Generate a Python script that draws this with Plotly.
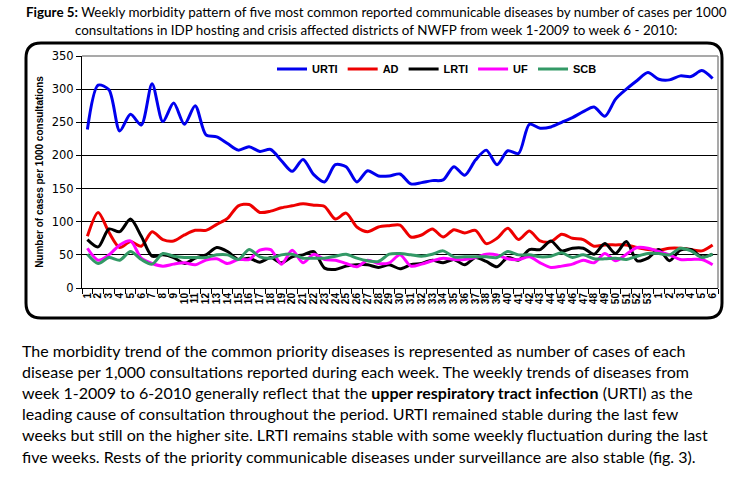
import plotly.graph_objects as go

# week labels: 1-53 of 2009 then 1-6 of 2010
week_labels = [str(w) for w in range(1, 54)] + [str(w) for w in range(1, 7)]

urti = [239, 306, 299, 237, 262, 246, 308, 251, 279, 247,
        275, 231, 228, 218, 208, 213, 206, 209, 192, 176,
        194, 171, 160, 186, 183, 160, 177, 169, 169, 172,
        157, 159, 162, 163, 183, 170, 193, 208, 186, 207,
        203, 247, 241, 243, 250, 257, 266, 273, 259, 285,
        300, 313, 325, 315, 314, 320, 319, 328, 316]
ad = [78, 114, 84, 61, 70, 63, 85, 73, 71, 80,
      87, 87, 96, 105, 124, 126, 114, 116, 121, 124,
      127, 125, 123, 104, 113, 92, 85, 92, 94, 95,
      77, 80, 89, 77, 88, 83, 87, 67, 75, 90,
      73, 86, 71, 70, 81, 75, 73, 63, 65, 65,
      65, 61, 58, 57, 60, 60, 58, 56, 65]
lrti = [73, 62, 89, 85, 104, 78, 48, 50, 46, 37,
        45, 50, 61, 55, 43, 45, 39, 46, 38, 47,
        50, 55, 30, 28, 33, 35, 35, 31, 35, 29,
        35, 37, 42, 38, 43, 35, 46, 40, 32, 46,
        42, 58, 58, 71, 56, 60, 60, 51, 67, 52,
        70, 41, 45, 58, 41, 57, 58, 47, 51]
uf = [60, 42, 50, 65, 71, 45, 37, 33, 36, 38,
      35, 42, 44, 37, 43, 43, 57, 58, 36, 57,
      38, 51, 43, 42, 37, 32, 42, 37, 38, 50,
      33, 36, 41, 45, 43, 43, 46, 51, 50, 44,
      43, 47, 38, 31, 33, 36, 42, 38, 52, 41,
      51, 61, 60, 55, 50, 43, 43, 43, 35]
scb = [51, 37, 46, 42, 55, 43, 36, 52, 48, 46,
       46, 46, 50, 50, 43, 58, 47, 45, 50, 51,
       45, 45, 45, 48, 51, 45, 41, 40, 51, 52,
       50, 48, 51, 56, 47, 47, 47, 47, 46, 55,
       50, 50, 47, 48, 53, 46, 50, 44, 44, 45,
       43, 48, 52, 52, 50, 60, 56, 46, 51]

series = [("URTI", urti, "#0000EE"), ("AD", ad, "#EE0000"), ("LRTI", lrti, "#000000"),
          ("UF", uf, "#FF00FF"), ("SCB", scb, "#339966")]

title_lines = [
    "<b>Figure 5:</b> Weekly morbidity pattern of five most common reported communicable diseases by number of cases per 1000",
    "consultations in IDP hosting and crisis affected districts of NWFP from week 1-2009 to week 6 - 2010:",
]
para_lines = [
    "The morbidity trend of the common priority diseases is represented as number of cases of each",
    "disease per 1,000 consultations reported during each week. The weekly trends of diseases from",
    "week 1-2009 to 6-2010 generally reflect that the <b>upper respiratory tract infection</b> (URTI) as the",
    "leading cause of consultation throughout the period. URTI remained stable during the last few",
    "weeks but still on the higher site. LRTI remains stable with some weekly fluctuation during the last",
    "five weeks. Rests of the priority communicable diseases under surveillance are also stable (fig. 3).",
]

W, H = 752, 483
L, R, T, B = 82, 34, 56, 195
pw, ph = W - L - R, H - T - B


def px_x(x):
    return (x - L) / pw


def px_y(y):
    return (H - B - y) / ph


x = list(range(len(week_labels)))

fig = go.Figure()
for name, vals, col in series:
    fig.add_trace(go.Scatter(x=x, y=vals, name=name, mode="lines",
                             line=dict(color=col, width=3, shape="spline", smoothing=0.8)))

# rounded frame round the chart
x0, x1, yt, yb = px_x(26), px_x(722), px_y(43), px_y(318)
rx, ry = 15 / pw, 15 / ph
path = (f"M {x0+rx},{yt} L {x1-rx},{yt} Q {x1},{yt} {x1},{yt-ry} "
        f"L {x1},{yb+ry} Q {x1},{yb} {x1-rx},{yb} L {x0+rx},{yb} "
        f"Q {x0},{yb} {x0},{yb+ry} L {x0},{yt-ry} Q {x0},{yt} {x0+rx},{yt} Z")
fig.add_shape(type="path", path=path, xref="paper", yref="paper",
              line=dict(color="black", width=3))
# grey plot-area border, top and right
fig.add_shape(type="line", xref="paper", yref="paper", x0=0, x1=1, y0=1, y1=1,
              line=dict(color="#8c8c8c", width=1.5), layer="above")
fig.add_shape(type="line", xref="paper", yref="paper", x0=1, x1=1, y0=0, y1=1,
              line=dict(color="#8c8c8c", width=1.5), layer="above")

for i, line in enumerate(title_lines):
    fig.add_annotation(text=line, xref="paper", yref="paper", x=px_x(376), y=px_y(12 + 18 * i),
                       xanchor="center", yanchor="middle", showarrow=False,
                       font=dict(family="Lato", size=13.4, color="black"))

for i, line in enumerate(para_lines):
    fig.add_annotation(text=line, xref="paper", yref="paper", x=px_x(20), y=px_y(350 + 21.2 * i),
                       xanchor="left", yanchor="middle", showarrow=False,
                       font=dict(family="Lato", size=16, color="black"))

fig.update_layout(
    width=W, height=H,
    margin=dict(l=L, r=R, t=T, b=B),
    paper_bgcolor="white", plot_bgcolor="white",
    showlegend=True,
    legend=dict(orientation="h", x=px_x(272), y=px_y(69), xanchor="left", yanchor="middle",
                bgcolor="rgba(0,0,0,0)", font=dict(family="Liberation Sans", size=11, color="black",
                                                 weight="bold")),
    xaxis=dict(range=[-0.5, len(x) - 0.5], tickmode="array", tickvals=x, ticktext=week_labels,
               tickangle=-90, ticks="", showgrid=False, zeroline=False,
               showline=True, linecolor="black", linewidth=1,
               tickfont=dict(family="Liberation Sans", size=10, color="black", weight="bold"),
               minor=dict(tickmode="linear", tick0=-0.5, dtick=1, ticks="outside", ticklen=5,
                          tickcolor="black", showgrid=False)),
    yaxis=dict(range=[0, 350], dtick=50, ticks="outside", ticklen=5, tickcolor="black",
               showgrid=True, gridcolor="black", gridwidth=1, zeroline=False,
               showline=True, linecolor="black", linewidth=1,
               tickfont=dict(family="DejaVu Sans", size=11.5, color="black"),
               title=dict(text="<b>Number of cases per 1000 consultations</b>", standoff=6,
                          font=dict(family="Liberation Sans", size=10, color="black"))),
)

# the page's default body margin would push the figure 8px off the corner
fig.write_html("out.html", config={"displayModeBar": False},
               post_script="document.body.style.margin='0px';")
